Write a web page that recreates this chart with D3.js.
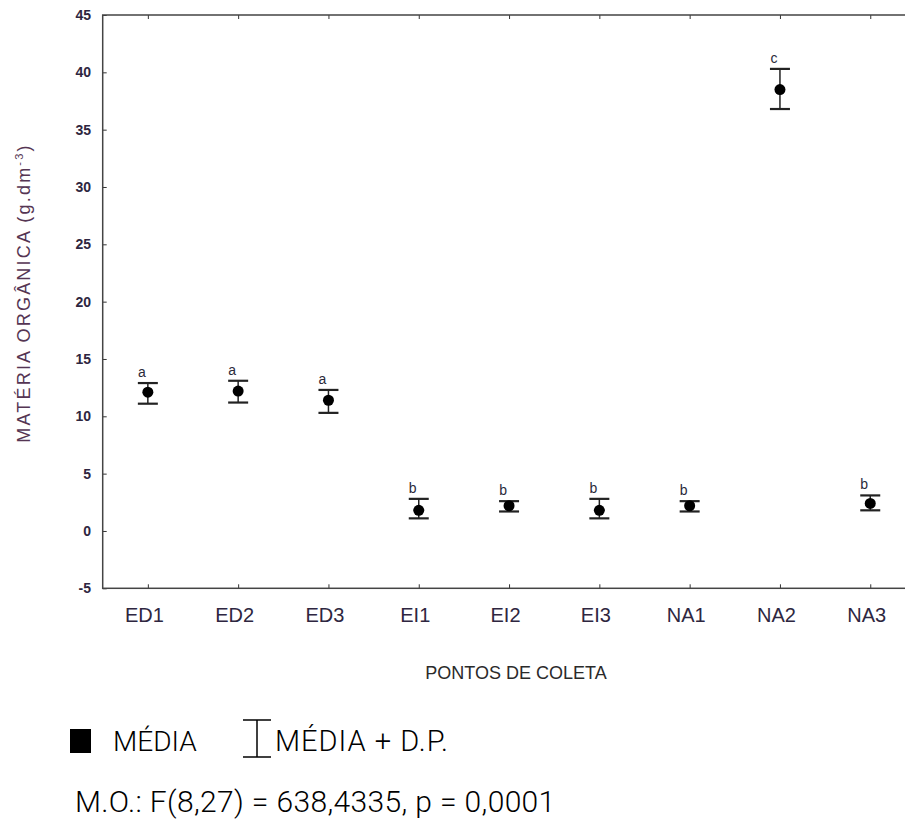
<!DOCTYPE html>
<meta charset="utf-8">
<head>
  <style>
    body { margin:0; background:#fff; }
    svg { display:block; }
  </style>
  <script src="https://d3js.org/d3.v7.min.js"></script>
</head>
<body>
<svg width="905" height="820"></svg>
<script>
  // pontos de coleta e valores
  var categories = ["ED1", "ED2", "ED3", "EI1", "EI2", "EI3", "NA1", "NA2", "NA3"]
  var means  = [12.1, 12.2, 11.4, 1.8, 2.2, 1.8, 2.2, 38.5, 2.4]
  var upper  = [12.9, 13.1, 12.3, 2.8, 2.6, 2.8, 2.6, 40.3, 3.1]
  var lower  = [11.1, 11.2, 10.3, 1.1, 1.7, 1.1, 1.7, 36.8, 1.8]
  var groups = ["a", "a", "a", "b", "b", "b", "b", "c", "b"]
  var yTicks = [-5, 0, 5, 10, 15, 20, 25, 30, 35, 40, 45]

  var plotL = 102.7, plotR = 915.4, plotT = 15, plotB = 588.3

  var svg = d3.select('svg')
  svg.append('rect').attr('width', 905).attr('height', 820).attr('fill', '#fff')

  var x = d3.scalePoint().domain(categories).range([plotL, plotR]).padding(0.5)
  var y = d3.scaleLinear().domain([-5, 45]).range([plotB, plotT])

  // eixos com marcas para dentro
  var gy = svg.append('g')
    .attr('transform', 'translate(' + plotL + ',0)')
    .call(d3.axisLeft(y).tickValues(yTicks).tickSize(-4).tickPadding(11.7)
      .tickFormat(function (d) { return String(d) }))
  gy.select('.domain').remove()
  gy.selectAll('text')
    .attr('font-family', 'Liberation Sans, Arial, sans-serif')
    .attr('font-size', 14).attr('font-weight', 'bold').attr('fill', '#2e2640')
  gy.selectAll('line').attr('stroke', '#333')

  var gx = svg.append('g')
    .attr('transform', 'translate(0,' + plotB + ')')
    .call(d3.axisBottom(x).tickSize(-4).tickPadding(20))
  gx.select('.domain').remove()
  gx.selectAll('text')
    .attr('dx', -4)
    .attr('font-family', 'Liberation Sans, Arial, sans-serif')
    .attr('font-size', 20).attr('fill', '#2e2640')
  gx.selectAll('line').attr('stroke', '#333')

  var gt = svg.append('g')
    .attr('transform', 'translate(0,' + plotT + ')')
    .call(d3.axisTop(x).tickSize(-4).tickFormat(''))
  gt.select('.domain').remove()
  gt.selectAll('line').attr('stroke', '#333')

  svg.append('rect')
    .attr('x', plotL).attr('y', plotT)
    .attr('width', plotR - plotL).attr('height', plotB - plotT)
    .attr('fill', 'none').attr('stroke', '#444').attr('stroke-width', 1.5)

  // barras de erro
  var bars = svg.append('g').selectAll('g')
    .data(categories)
    .enter().append('g')

  bars.append('line')
    .attr('x1', function (d) { return x(d) }).attr('x2', function (d) { return x(d) })
    .attr('y1', function (d, i) { return y(upper[i]) })
    .attr('y2', function (d, i) { return y(lower[i]) })
    .attr('stroke', '#222').attr('stroke-width', 1.5)

  bars.append('line')
    .attr('x1', function (d) { return x(d) - 10 }).attr('x2', function (d) { return x(d) + 10 })
    .attr('y1', function (d, i) { return y(upper[i]) })
    .attr('y2', function (d, i) { return y(upper[i]) })
    .attr('stroke', '#222').attr('stroke-width', 2.2)

  bars.append('line')
    .attr('x1', function (d) { return x(d) - 10 }).attr('x2', function (d) { return x(d) + 10 })
    .attr('y1', function (d, i) { return y(lower[i]) })
    .attr('y2', function (d, i) { return y(lower[i]) })
    .attr('stroke', '#222').attr('stroke-width', 2.2)

  bars.append('circle')
    .attr('cx', function (d) { return x(d) })
    .attr('cy', function (d, i) { return y(means[i]) })
    .attr('r', 5.5)
    .attr('fill', '#000')

  bars.append('text')
    .attr('x', function (d) { return x(d) - 6 })
    .attr('y', function (d, i) { return y(upper[i]) - 6 })
    .attr('text-anchor', 'middle')
    .attr('font-family', 'Liberation Sans, Arial, sans-serif')
    .attr('font-size', 14)
    .attr('fill', '#2a2a3a')
    .text(function (d, i) { return groups[i] })

  // titulos dos eixos
  var yt = svg.append('text')
    .attr('transform', 'translate(30,293) rotate(-90)')
    .attr('text-anchor', 'middle')
    .attr('font-family', 'Liberation Sans, Arial, sans-serif')
    .attr('font-size', 18)
    .attr('letter-spacing', 2.2)
    .attr('fill', '#553553')
  yt.append('tspan').text('MATÉRIA ORGÂNICA  (g.dm')
  yt.append('tspan').attr('font-size', 11).attr('dy', -7).text('-3')
  yt.append('tspan').attr('dy', 7).text(')')

  svg.append('text')
    .attr('x', 516).attr('y', 679)
    .attr('text-anchor', 'middle')
    .attr('font-family', 'Liberation Sans, Arial, sans-serif')
    .attr('font-size', 18)
    .attr('fill', '#2a2a2a')
    .text('PONTOS DE COLETA')

  // legenda
  svg.append('rect').attr('x', 70).attr('y', 729).attr('width', 21).attr('height', 24).attr('fill', '#000')
  svg.append('text').attr('x', 113).attr('y', 751)
    .attr('font-family', 'Roboto, sans-serif').attr('font-weight', 300)
    .attr('font-size', 28).attr('fill', '#000').text('MÉDIA')

  var lg = svg.append('g').attr('stroke', '#000').attr('stroke-width', 1.5)
  lg.append('line').attr('x1', 257).attr('x2', 257).attr('y1', 720).attr('y2', 757)
  lg.append('line').attr('x1', 243).attr('x2', 271).attr('y1', 720).attr('y2', 720)
  lg.append('line').attr('x1', 243).attr('x2', 271).attr('y1', 757).attr('y2', 757)
  svg.append('text').attr('x', 275).attr('y', 751)
    .attr('font-family', 'Roboto, sans-serif').attr('font-weight', 300)
    .attr('font-size', 29).attr('letter-spacing', 1).attr('fill', '#000')
    .text('MÉDIA + D.P.')

  svg.append('text').attr('x', 75).attr('y', 812)
    .attr('font-family', 'Roboto, sans-serif').attr('font-weight', 300)
    .attr('font-size', 30).attr('letter-spacing', 0.35).attr('fill', '#000')
    .text('M.O.: F(8,27) = 638,4335, p = 0,0001')
</script>
</body>
